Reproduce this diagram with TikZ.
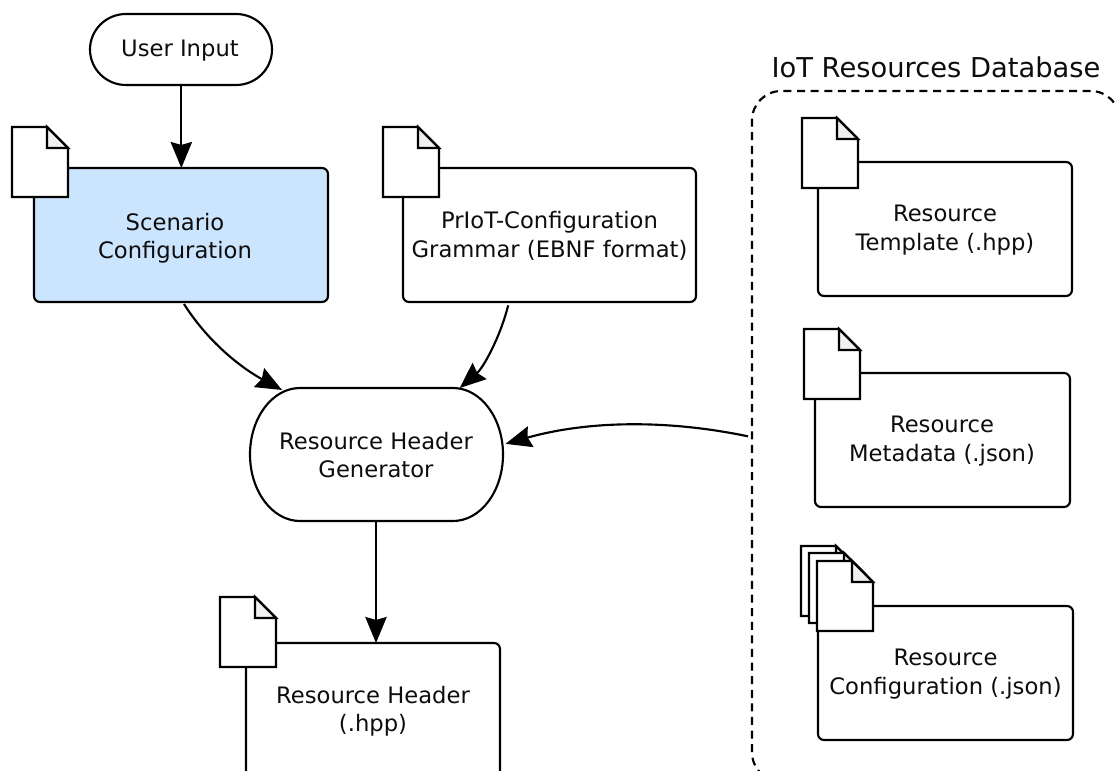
\documentclass[tikz,border=0pt]{standalone}
\usepackage{fontspec}
\setmainfont{DejaVu Sans}
\usetikzlibrary{arrows.meta}
\tikzset{
  x=0.75pt,y=-0.75pt,
  every node/.style={inner sep=0pt,outer sep=0pt},
  box/.style={draw=black,line width=1.6pt,rounded corners=4.5pt,fill=white,anchor=north west},
  hotbox/.style={box,fill=cfgblue},
  txt/.style={align=center,font=\fontsize{17pt}{21.3pt}\selectfont,text=black!95},
  titletxt/.style={font=\fontsize{20.5pt}{24pt}\selectfont,text=black!95},
  conn/.style={draw=black,line width=1.6pt,-{Stealth[length=19.5pt,width=16pt,inset=2.2pt]}},
  pics/docicon/.style={code={
    \draw[line width=1.6pt,fill=white,line join=miter] (0,0) -- (35,0) -- (56,21) -- (56,70) -- (0,70) -- cycle;
    \draw[line width=1.6pt,fill=black!6,line join=miter] (35,0) -- (56,21) -- (35,21) -- cycle;
  }}
}
\definecolor{cfgblue}{HTML}{CCE5FF}
\begin{document}
\begin{tikzpicture}
\clip (0,0) rectangle (1115,771);
% nodes
\node[box,draw=none,fill=none,minimum width=137pt,minimum height=53.25pt] (input) at (90,14) {};
\draw[line width=1.6pt] (126,14) -- (236,14) arc[start angle=-90,end angle=90,x radius=36,y radius=35.5] -- (126,85) arc[start angle=90,end angle=270,x radius=36,y radius=35.5] -- cycle;
\node[txt] (inputt) at (180,50.5) {User Input};

\node[box,hotbox,minimum width=220.5pt,minimum height=100.5pt] (sc) at (34,168) {};
\path (12,127) pic {docicon};
\node[txt] (sct) at (175,238.5) {Scenario\\Configuration};

\node[box,minimum width=219.75pt,minimum height=100.5pt] (gr) at (403,168) {};
\path (383,127) pic {docicon};
\node[txt] (grt) at (549.5,236) {PrIoT-Configuration\\Grammar (EBNF format)};

\node[box,draw=none,fill=none,minimum width=189.75pt,minimum height=99.75pt] (gen) at (249.5,388) {};
\draw[line width=1.6pt] (300,388) -- (453,388) arc[start angle=-90,end angle=90,x radius=50,y radius=66.5] -- (300,521) arc[start angle=90,end angle=270,x radius=50,y radius=66.5] -- cycle;
\node[txt] (gent) at (376,455) {Resource Header\\Generator};

\node[box,minimum width=190.5pt,minimum height=105pt] (hdr) at (246,643) {};
\path (220,597) pic {docicon};
\node[txt] (hdrt) at (373,711) {Resource Header\\(.hpp)};

\node[box,line width=1.6pt,dash pattern=on 6pt off 4.2pt,rounded corners=22pt,fill=none,minimum width=276pt,minimum height=518pt] (db) at (752,91) {};
\node[titletxt] (dbt) at (936,67.5) {IoT Resources Database};

\node[box,minimum width=190.5pt,minimum height=100.5pt] (tp) at (818,162) {};
\path (802,118) pic {docicon};
\node[txt] (tpt) at (945,230) {Resource\\Template (.hpp)};

\node[box,minimum width=191.25pt,minimum height=100.5pt] (md) at (815,373) {};
\path (804,329) pic {docicon};
\node[txt] (mdt) at (942,441) {Resource\\Metadata (.json)};

\node[box,minimum width=191.25pt,minimum height=100.5pt] (cf) at (818,606) {};
\path (801,546) pic {docicon};
\path (809,553) pic {docicon};
\path (817,561) pic {docicon};
\node[txt] (cft) at (945.5,674) {Resource\\Configuration (.json)};

% connectors
\draw[conn] (input.south) -- (input.south |- sc.north);
\draw[conn] ([xshift=2.25pt,yshift=-1.5pt]sc.south) .. controls (210,345) and (245,370) .. ([xshift=24.4pt,yshift=-1.5pt]gen.north west);
\draw[conn] ([xshift=-31pt,yshift=-2.5pt]gr.south) .. controls (500,338) and (483,368) .. ([xshift=-32pt,yshift=0pt]gen.north east);
\draw[conn] ([xshift=-3pt,yshift=0pt]db.west) .. controls (670,420) and (590,420) .. ([xshift=2.25pt,yshift=8pt]gen.east);
\draw[conn] (gen.south) -- (gen.south |- hdr.north);
\end{tikzpicture}
\end{document}
